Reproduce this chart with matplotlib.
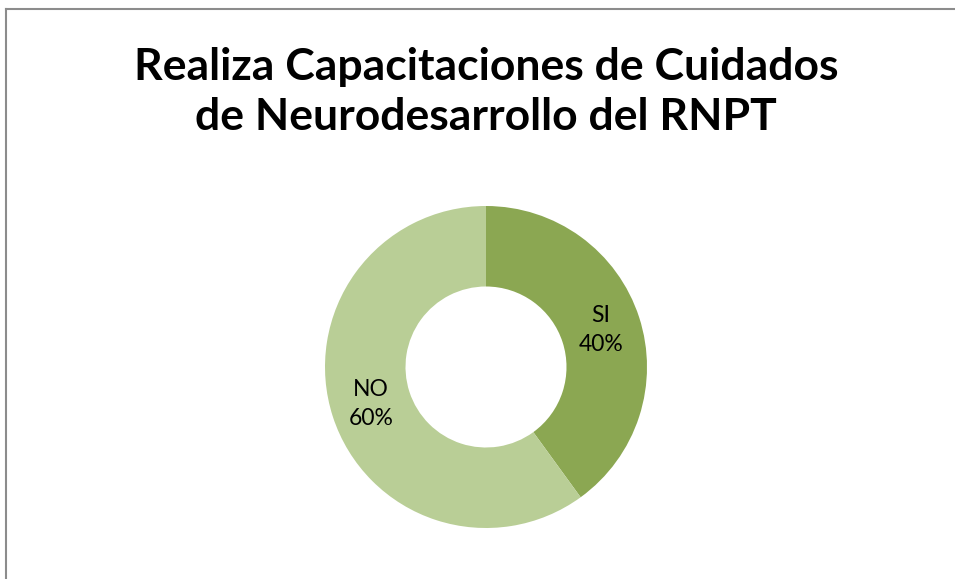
import matplotlib.pyplot as plt
from matplotlib.lines import Line2D

# data
categories = ["SI", "NO"]
values = [40, 60]
colors = ["#8BA752", "#B9CE96"]
title = "Realiza Capacitaciones de Cuidados\nde Neurodesarrollo del RNPT"

W, H = 955, 579
fig = plt.figure(figsize=(W / 100, H / 100), dpi=100)

# outer chart border (only left/top visible in the original)
bx, by = 6 / W, 1 - 8.5 / H
fig.add_artist(Line2D([bx, bx], [0, by], transform=fig.transFigure,
                      color="#8C8C8C", linewidth=1.5))
fig.add_artist(Line2D([bx, 1], [by, by], transform=fig.transFigure,
                      color="#8C8C8C", linewidth=1.5))

# donut centred at (486, 367) px, radius 161 px
cx, cy, r = 486, 367, 161
ax = fig.add_axes([(cx - r) / W, (H - cy - r) / H, 2 * r / W, 2 * r / H])
labels = [f"{c}\n{v}%" for c, v in zip(categories, values)]
wedges, texts = ax.pie(values, colors=colors, startangle=90, counterclock=False,
                       labels=labels, labeldistance=0.75,
                       wedgeprops=dict(width=0.5, edgecolor="none"),
                       textprops=dict(fontsize=16.5, family="Lato",
                                      color="black", linespacing=1.45))
for t in texts:
    t.set_ha("center")
    t.set_va("center")
ax.set_xlim(-1, 1)
ax.set_ylim(-1, 1)
ax.set_aspect("equal")

fig.text(486 / W, 1 - 92 / H, title, ha="center", va="center",
         fontsize=32, fontweight="bold", family="Lato", linespacing=1.3)

fig.savefig("out.png", dpi=100)
